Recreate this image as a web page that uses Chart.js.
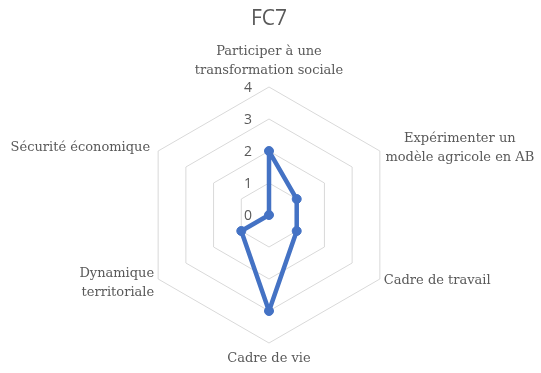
<!DOCTYPE html>
<html>
<head>
<meta charset="utf-8">
<script src="https://cdn.jsdelivr.net/npm/chart.js@4/dist/chart.umd.min.js"></script>
<style>
  html, body { margin: 0; padding: 0; background: #ffffff; }
  #wrap { width: 541px; height: 373px; position: relative; }
</style>
</head>
<body>
<div id="wrap"><canvas id="c" width="541" height="373"></canvas></div>
<script>
// ---- data ----
const categories = [
  ["Participer à une", "transformation sociale"],
  ["Expérimenter un", "modèle agricole en AB"],
  ["Cadre de travail"],
  ["Cadre de vie"],
  ["Dynamique", "territoriale"],
  ["Sécurité économique"]
];
const seriesFC7 = [2, 1, 1, 3, 1, 0];
const tickValues = [0, 1, 2, 3, 4];
const chartTitle = "FC7";

// ---- label placement relative to each outer vertex (style only) ----
const labelPlacement = [
  { align: "center", dx: 0,   dy: -35 },
  { align: "center", dx: 80,  dy: -12 },
  { align: "left",   dx: 4,   dy: 2 },
  { align: "center", dx: 0,   dy: 16 },
  { align: "right",  dx: -4,  dy: -5 },
  { align: "right",  dx: -8,  dy: -3 }
];
const labelFont = "13px 'DejaVu Serif'";
const labelLineHeight = 18.5;

const textPlugin = {
  id: "customText",
  afterDraw(chart) {
    const scale = chart.scales.r;
    const ctx = chart.ctx;
    ctx.save();
    // tick labels
    ctx.font = "14px 'Open Sans'";
    ctx.fillStyle = "#595959";
    ctx.textAlign = "center";
    ctx.textBaseline = "middle";
    tickValues.forEach(v => {
      const d = scale.getDistanceFromCenterForValue(v);
      ctx.fillText(String(v), scale.xCenter - 21, scale.yCenter - d + 1);
    });
    // point labels
    ctx.font = labelFont;
    categories.forEach((lines, i) => {
      const p = scale.getPointPosition(i, scale.drawingArea);
      const pl = labelPlacement[i];
      ctx.textAlign = pl.align;
      lines.forEach((ln, k) => {
        ctx.fillText(ln, p.x + pl.dx, p.y + pl.dy + k * labelLineHeight);
      });
    });
    ctx.restore();
  }
};

new Chart(document.getElementById("c"), {
  type: "radar",
  data: {
    labels: categories,
    datasets: [{
      label: chartTitle,
      data: seriesFC7,
      borderColor: "#4472C4",
      backgroundColor: "rgba(0,0,0,0)",
      borderWidth: 4.5,
      borderJoinStyle: "round",
      fill: false,
      tension: 0,
      pointRadius: 4.5,
      pointBackgroundColor: "#4472C4",
      pointBorderColor: "#4472C4",
      pointBorderWidth: 1
    }]
  },
  options: {
    responsive: false,
    animation: false,
    devicePixelRatio: 1,
    layout: { padding: { left: 140, right: 143, top: 0, bottom: 30 } },
    plugins: {
      legend: { display: false },
      tooltip: { enabled: false },
      title: {
        display: true,
        text: chartTitle,
        color: "#595959",
        font: { family: "'Open Sans'", size: 21, weight: "normal" },
        padding: { top: 6, bottom: 55.8 }
      }
    },
    scales: {
      r: {
        min: 0,
        max: 4,
        ticks: { display: false, stepSize: 1 },
        grid: { color: "#d9d9d9", lineWidth: 1 },
        angleLines: { display: false },
        pointLabels: { display: false }
      }
    }
  },
  plugins: [textPlugin]
});
</script>
</body>
</html>
